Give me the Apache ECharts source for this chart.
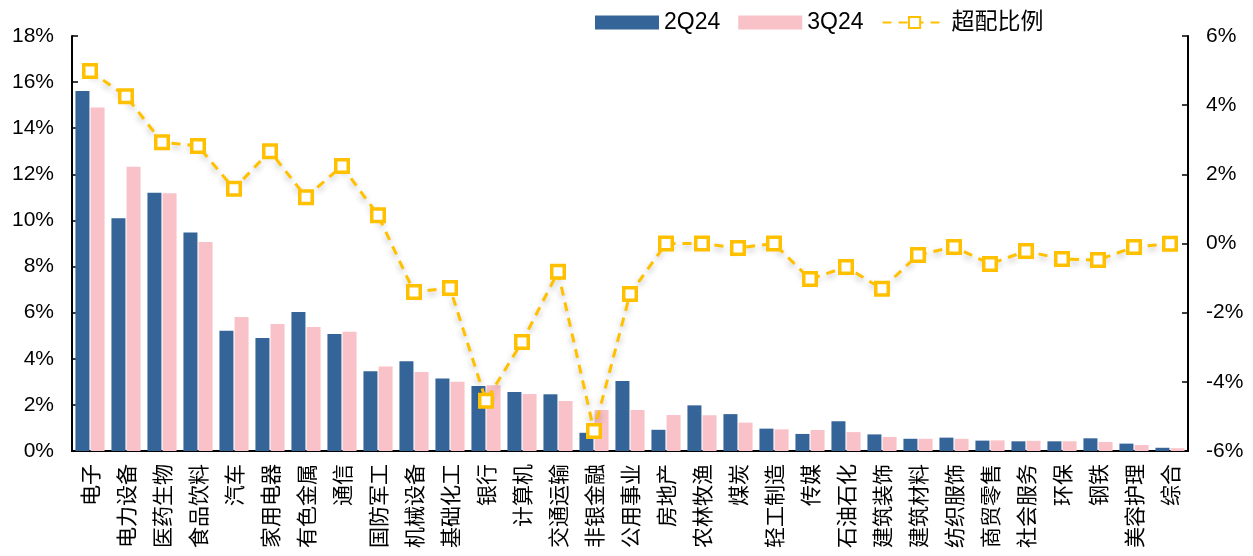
<!DOCTYPE html>
<html><head><meta charset="utf-8">
<script src="https://cdn.jsdelivr.net/npm/echarts@6/dist/echarts.min.js"></script>
<style>html,body{margin:0;padding:0;background:#fff}#c{width:1253px;height:556px}</style>
</head><body><div id="c"></div>
<script>
var categories = ['电子','电力设备','医药生物','食品饮料','汽车','家用电器','有色金属','通信','国防军工','机械设备','基础化工','银行','计算机','交通运输','非银金融','公用事业','房地产','农林牧渔','煤炭','轻工制造','传媒','石油石化','建筑装饰','建筑材料','纺织服饰','商贸零售','社会服务','环保','钢铁','美容护理','综合'];
var q2 = [15.61,10.09,11.2,9.48,5.22,4.9,6.03,5.07,3.46,3.89,3.14,2.82,2.56,2.46,0.79,3.04,0.92,1.98,1.6,0.97,0.74,1.29,0.72,0.53,0.58,0.45,0.42,0.42,0.55,0.32,0.14];
var q3 = [14.9,12.33,11.18,9.06,5.81,5.51,5.38,5.17,3.67,3.43,3.0,2.85,2.47,2.17,1.78,1.78,1.56,1.55,1.23,0.94,0.91,0.82,0.61,0.53,0.53,0.46,0.44,0.42,0.39,0.26,0.12];
var overweight = [4.99,4.26,2.93,2.82,1.58,2.67,1.34,2.24,0.82,-1.4,-1.29,-4.55,-2.85,-0.82,-5.42,-1.46,0.0,0.0,-0.13,0.0,-1.03,-0.68,-1.31,-0.33,-0.1,-0.59,-0.22,-0.45,-0.48,-0.1,-0.01];
var leftTicks = [0,18,2];
var rightTicks = [-6,6,2];

var chart = echarts.init(document.getElementById('c'));
var font = 'Liberation Sans, Arial, Noto Sans CJK SC, sans-serif';
chart.setOption({
  animation:false,
  textStyle:{fontFamily:font},
  legend:{
    top:6, left:590, itemWidth:64, itemHeight:14, itemGap:18,
    textStyle:{fontSize:23, color:'#000', fontFamily:font},
    data:[{name:'2Q24', icon:'rect'},{name:'3Q24', icon:'rect'},{name:'超配比例'}]
  },
  grid:{left:72, right:65, top:36, bottom:105},
  xAxis:{
    type:'category', data:categories,
    axisLine:{lineStyle:{color:'#000', width:2}},
    axisTick:{inside:true, length:6, lineStyle:{color:'#000', width:1.5}},
    axisLabel:{rotate:90, interval:0, fontSize:21, color:'#000', fontFamily:'Noto Sans CJK SC, sans-serif', margin:13}
  },
  yAxis:[{
    type:'value', min:leftTicks[0], max:leftTicks[1], interval:leftTicks[2],
    splitLine:{show:false},
    axisLine:{show:true, lineStyle:{color:'#000', width:2}},
    axisTick:{show:true, inside:true, length:6, lineStyle:{color:'#000', width:1.5}},
    axisLabel:{formatter:'{value}%', fontSize:21, color:'#000', margin:18}
  },{
    type:'value', min:rightTicks[0], max:rightTicks[1], interval:rightTicks[2],
    splitLine:{show:false},
    axisLine:{show:true, lineStyle:{color:'#000', width:2}},
    axisTick:{show:true, inside:true, length:6, lineStyle:{color:'#000', width:1.5}},
    axisLabel:{formatter:'{value}%', fontSize:21, color:'#000', margin:18}
  }],
  series:[{
    name:'2Q24', type:'bar', data:q2, barWidth:14, barGap:'8%',
    itemStyle:{color:'#346498'}
  },{
    name:'3Q24', type:'bar', data:q3, barWidth:14,
    itemStyle:{color:'#F9C1C8'}
  },{
    name:'超配比例', type:'line', yAxisIndex:1, data:overweight,
    symbol:'rect', symbolSize:12.5,
    lineStyle:{color:'#FFC000', width:3, type:[9,7], shadowColor:'rgba(0,0,0,0.3)', shadowBlur:6, shadowOffsetY:3},
    itemStyle:{color:'#fff', borderColor:'#FFC000', borderWidth:3.5},
    z:5
  }]
});
</script></body></html>
